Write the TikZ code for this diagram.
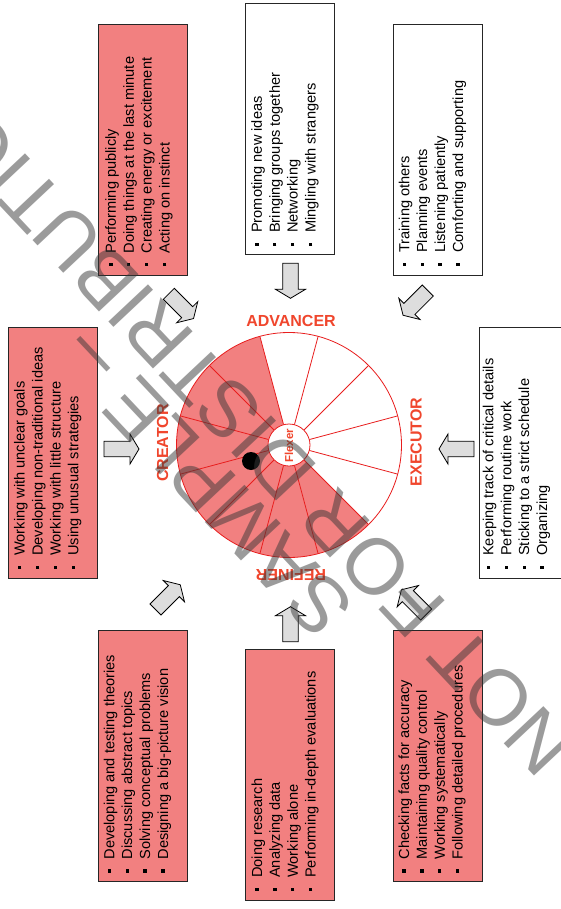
\documentclass[tikz,border=0pt]{standalone}
\usepackage{fontspec}
\setmainfont{Liberation Sans}
\definecolor{coral}{RGB}{242,128,128}
\definecolor{wheelred}{RGB}{232,30,30}
\definecolor{labred}{RGB}{240,70,45}
\definecolor{arrowgray}{RGB}{221,221,221}
\newcommand\bul{\makebox[13.2pt][l]{\rule[3.35pt]{3.3pt}{3.3pt}}}
\newcommand\itemsblock[4]{\begin{tabular}[t]{@{}l@{}}\bul #1\\\bul #2\\\bul #3\\\bul #4\end{tabular}}
\newcommand\blockarrow[3]{\begin{scope}[shift={(#1,#2)},rotate=#3]
  \filldraw[blk] (0,-7.8) -- (26,-7.8) -- (26,-15) -- (35,0) -- (26,15) -- (26,7.8) -- (0,7.8) -- cycle;
  \end{scope}}
\begin{document}
\begin{tikzpicture}[x=1pt,y=-1pt,
  box/.style={draw=black!85, line width=0.9pt, minimum width=89pt, minimum height=251pt, inner sep=0pt},
  redbox/.style={box, fill=coral},
  whitebox/.style={box, fill=white},
  items/.style={rotate=90, anchor=base west, inner sep=0pt, font=\fontsize{14.6}{17.9}\selectfont},
  lab/.style={text=labred, font=\bfseries\fontsize{16}{16}\selectfont, inner sep=0pt},
  blk/.style={fill=arrowgray, draw=black, line width=0.8pt, line join=miter},
  wheel/.style={draw=wheelred, line width=0.8pt},
  wm/.style={text=black!78, text opacity=0.5, font=\fontsize{79}{79}\selectfont, inner sep=0pt, rotate=133.2}]
\useasboundingbox (0,0) rectangle (561,909);
\fill[white] (0,0) rectangle (561,909);
\clip (0,0) rectangle (561,909);

% boxes
\node[redbox]   (boxA) at (142.8,149.75) {};
\node[whitebox] (boxB) at (290.35,129.15) {};
\node[whitebox] (boxC) at (437.5,149.5) {};
\node[whitebox] (boxD) at (523.5,453) {};
\node[redbox]   (boxE) at (53,452.75) {};
\node[redbox]   (boxF) at (142.8,756.2) {};
\node[redbox]   (boxG) at (290,774.5) {};
\node[redbox]   (boxH) at (437.8,756.2) {};

% texts
\node[items] (txtA) at (115.9,266.65) {\itemsblock{Performing publicly}{Doing things at the last minute}{Creating energy or excitement}{Acting on instinct}};
\node[items] (txtB) at (261.9,246.15) {\itemsblock{Promoting new ideas}{Bringing groups together}{Networking}{Mingling with strangers}};
\node[items] (txtC) at (409.3,266.15) {\itemsblock{Training others}{Planning events}{Listening patiently}{Comforting and supporting}};
\node[items] (txtD) at (493.4,569.15) {\itemsblock{Keeping track of critical details}{Performing routine work}{Sticking to a strict schedule}{Organizing}};
\node[items] (txtE) at (24.7,569.15) {\itemsblock{Working with unclear goals}{Developing non-traditional ideas}{Working with little structure}{Using unusual strategies}};
\node[items] (txtF) at (114.3,872.85) {\itemsblock{Developing and testing theories}{Discussing abstract topics}{Solving conceptual problems}{Designing a big-picture vision}};
\node[items] (txtG) at (262,891.15) {\itemsblock{Doing research}{Analyzing data}{Working alone}{Performing in-depth evaluations}};
\node[items] (txtH) at (409,872.85) {\itemsblock{Checking facts for accuracy}{Maintaining quality control}{Working systematically}{Following detailed procedures}};

% arrows
\blockarrow{290.5}{263.3}{-90}
\blockarrow{290.5}{641.7}{90}
\blockarrow{104}{449}{0}
\blockarrow{474}{449}{180}
\blockarrow{168.8}{293.8}{-45}
\blockarrow{427.8}{290.5}{-135}
\blockarrow{155.5}{609.5}{45}
\blockarrow{426.2}{614.5}{135}

% wheel
\begin{scope}[shift={(289,445)}, yscale=-1]
  \fill[coral] (0,0) -- (105:112.5) arc[start angle=105, end angle=315, radius=112.5] -- cycle;
  \foreach \a in {15,45,...,345} \draw[wheel] (\a:21) -- (\a:112.5);
  \draw[wheel] (0,0) circle[radius=112.5];
  \filldraw[wheel, fill=white] (0,0) circle[radius=21];
\end{scope}
\fill[black] (251,461) circle[radius=9];
\coordinate (hub) at (289,445);

% labels
\node[lab] (adv) at (291,321) {ADVANCER};
\node[lab, rotate=90] (exe) at (416,442) {EXECUTOR};
\node[lab, rotate=90] (cre) at (162.5,443) {CREATOR};
\node[lab, rotate=180] (ref) at (291,575) {REFINER};
\node[text=labred, font=\bfseries\fontsize{11.5}{11.5}\selectfont, rotate=90, inner sep=0pt] (flex) at (289,446) {Flexer};

% watermark
\node[wm] (wm1) at (239,421) {NOT FOR DISTRIBUTION};
\node[wm] (wm2) at (205.8,483.4) {SAMPLE –};
\end{tikzpicture}
\end{document}
